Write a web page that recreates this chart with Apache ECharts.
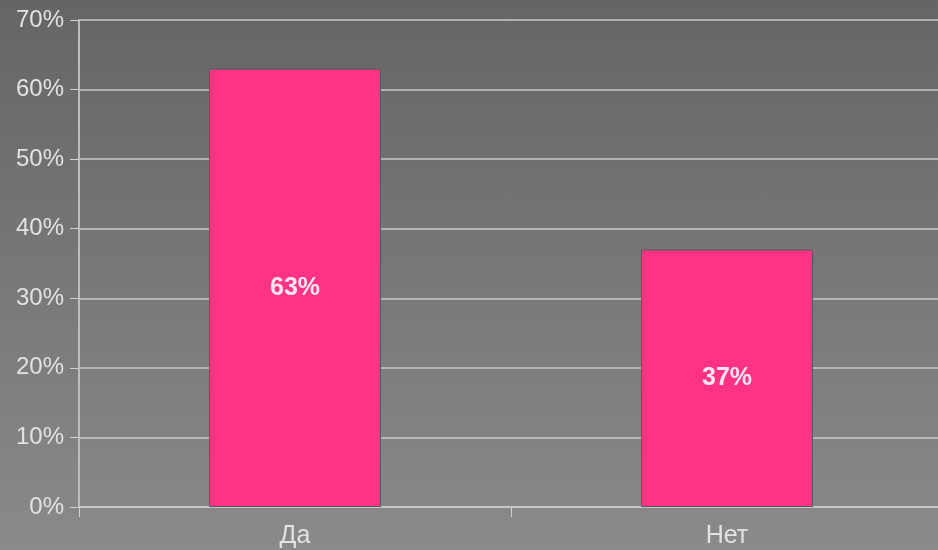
<!DOCTYPE html>
<html><head><meta charset="utf-8">
<script src="https://cdn.jsdelivr.net/npm/echarts@6/dist/echarts.min.js"></script>
<style>
html,body{margin:0;padding:0;overflow:hidden;}
#c{width:938px;height:550px;background:linear-gradient(to bottom,#656565 0%,#8a8a8a 100%);}
</style></head>
<body><div id="c"></div>
<script>
const categories = ['Да', 'Нет'];
const values = [63, 37];
const yTicks = [0, 10, 20, 30, 40, 50, 60, 70];

const chart = echarts.init(document.getElementById('c'), null, {renderer: 'canvas'});
chart.setOption({
  backgroundColor: 'transparent',
  animation: false,
  grid: {left: 79, width: 864, top: 20, bottom: 43, containLabel: false, outerBoundsMode: 'none'},
  xAxis: {
    type: 'category',
    data: categories,
    axisLine: {show: true, lineStyle: {color: '#c4c4c4', width: 2}},
    axisTick: {show: true, alignWithLabel: false, length: 10, lineStyle: {color: '#d0d0d0', width: 1}},
    axisLabel: {color: '#e2e2e2', fontSize: 25, fontFamily: 'Liberation Sans, Arial, sans-serif', margin: 17}
  },
  yAxis: {
    type: 'value',
    min: yTicks[0], max: yTicks[yTicks.length - 1], interval: 10,
    axisLine: {show: true, lineStyle: {color: '#bdbdbd', width: 2}},
    axisTick: {show: true, length: 9, lineStyle: {color: '#d0d0d0', width: 1}},
    axisLabel: {color: '#e2e2e2', fontSize: 24, fontFamily: 'Liberation Sans, Arial, sans-serif', margin: 15, formatter: '{value}%'},
    splitLine: {show: true, lineStyle: {color: '#c8c8c8', width: 1.5}}
  },
  series: [{
    type: 'bar',
    data: values,
    barWidth: 172,
    itemStyle: {color: '#ff3385', borderColor: '#5a5a5a', borderWidth: 1},
    label: {
      show: true, position: 'inside', formatter: '{c}%',
      color: '#fde6f0', fontSize: 25, fontWeight: 'bold',
      fontFamily: 'Liberation Sans, Arial, sans-serif'
    }
  }]
});
</script></body></html>
